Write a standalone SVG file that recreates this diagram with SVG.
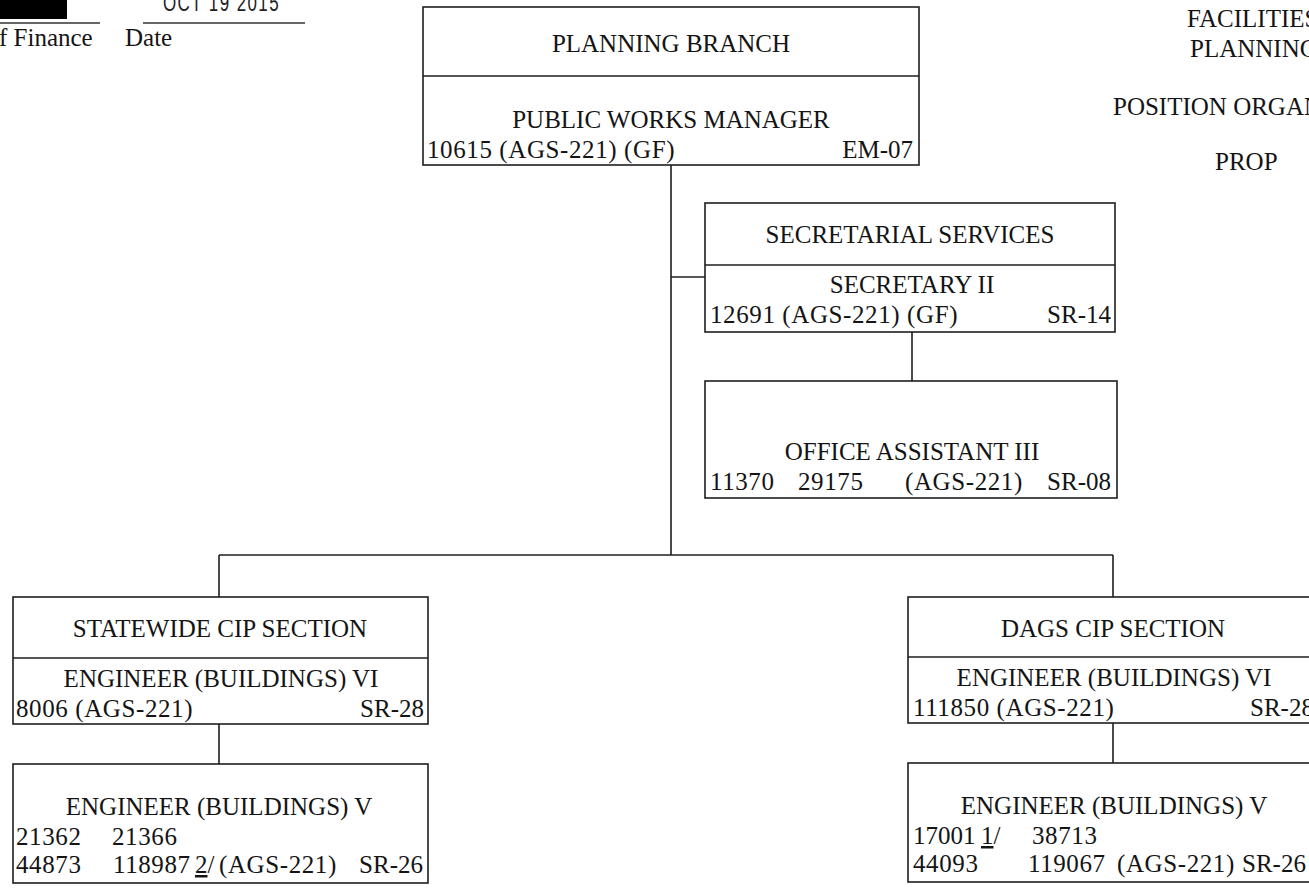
<svg xmlns="http://www.w3.org/2000/svg" width="1309" height="888" viewBox="0 0 1309 888" font-family="'Liberation Serif', 'DejaVu Serif', serif">
<style>
  text { font-family: 'Liberation Serif', 'DejaVu Serif', serif; font-size: 25px; fill: #141414; }
  .c { text-anchor: middle; }
  .r { text-anchor: end; }
  .n { letter-spacing: 0.6px; }
  .box { fill: #ffffff; stroke: #1e1e1e; stroke-width: 1.6; }
  .div { stroke: #1e1e1e; stroke-width: 1.6; }
  .conn line { stroke: #1e1e1e; stroke-width: 1.6; }
  text.stamp { font-family: 'Liberation Sans', 'DejaVu Sans', sans-serif; font-size: 24px; fill: #222; letter-spacing: 2px; }
</style>
<rect width="1309" height="888" fill="#ffffff"/>

<g id="header-left">
  <rect x="0" y="0" width="67" height="19" fill="#000000"/>
  <line x1="0" y1="23" x2="100" y2="23" stroke="#333" stroke-width="1.4"/>
  <line x1="143" y1="23" x2="305" y2="23" stroke="#333" stroke-width="1.4"/>
  <text class="stamp" x="163" y="11" textLength="117" lengthAdjust="spacingAndGlyphs">OCT 19 2015</text>
  <text x="-1" y="46">f Finance</text>
  <text x="125" y="46">Date</text>
</g>

<g id="header-right">
  <text x="1187" y="27">FACILITIES</text>
  <text x="1190" y="57">PLANNING</text>
  <text x="1113" y="115">POSITION ORGAN</text>
  <text x="1215" y="170">PROP</text>
</g>

<g class="conn" id="connectors">
  <line x1="671" y1="165" x2="671" y2="555"/>
  <line x1="671" y1="277" x2="705" y2="277"/>
  <line x1="912" y1="332" x2="912" y2="381"/>
  <line x1="219" y1="555" x2="1113" y2="555"/>
  <line x1="219" y1="555" x2="219" y2="597"/>
  <line x1="1113" y1="555" x2="1113" y2="597"/>
  <line x1="219" y1="724" x2="219" y2="764"/>
  <line x1="1113" y1="723" x2="1113" y2="763"/>
</g>

<g id="planning-branch">
  <rect class="box" x="423" y="7" width="496" height="158"/>
  <line class="div" x1="423" y1="76" x2="919" y2="76"/>
  <text class="c" x="671" y="52">PLANNING BRANCH</text>
  <text class="c" x="671" y="128">PUBLIC WORKS MANAGER</text>
  <text class="n" x="427" y="158">10615 (AGS-221) (GF)</text>
  <text class="r" x="913" y="158">EM-07</text>
</g>

<g id="secretarial-services">
  <rect class="box" x="705" y="203" width="410" height="129"/>
  <line class="div" x1="705" y1="265" x2="1115" y2="265"/>
  <text class="c" x="910" y="243">SECRETARIAL SERVICES</text>
  <text class="c" x="912" y="293">SECRETARY II</text>
  <text class="n" x="710" y="323">12691 (AGS-221) (GF)</text>
  <text class="r" x="1111" y="323">SR-14</text>
</g>

<g id="office-assistant">
  <rect class="box" x="705" y="381" width="412" height="117"/>
  <text class="c" x="912" y="460">OFFICE ASSISTANT III</text>
  <text class="n" x="710" y="490">11370</text>
  <text class="n" x="798" y="490">29175</text>
  <text class="n" x="905" y="490">(AGS-221)</text>
  <text class="r" x="1111" y="490">SR-08</text>
</g>

<g id="statewide-cip">
  <rect class="box" x="13" y="597" width="415" height="127"/>
  <line class="div" x1="13" y1="658" x2="428" y2="658"/>
  <text class="c" x="220" y="637">STATEWIDE CIP SECTION</text>
  <text class="c" x="221" y="687">ENGINEER (BUILDINGS) VI</text>
  <text class="n" x="16" y="717">8006 (AGS-221)</text>
  <text class="r" x="424" y="717">SR-28</text>
</g>

<g id="statewide-engineer-v">
  <rect class="box" x="13" y="764" width="415" height="119"/>
  <text class="c" x="219" y="815">ENGINEER (BUILDINGS) V</text>
  <text class="n" x="16" y="845">21362</text>
  <text class="n" x="112" y="845">21366</text>
  <text class="n" x="16" y="873">44873</text>
  <text class="n" x="113" y="873">118987</text>
  <text x="195" y="873"><tspan text-decoration="underline">2</tspan>/</text>
  <text class="n" x="219" y="873">(AGS-221)</text>
  <text class="r" x="423" y="873">SR-26</text>
</g>

<g id="dags-cip">
  <rect class="box" x="908" y="597" width="410" height="126"/>
  <line class="div" x1="908" y1="657" x2="1318" y2="657"/>
  <text class="c" x="1113" y="637">DAGS CIP SECTION</text>
  <text class="c" x="1114" y="686">ENGINEER (BUILDINGS) VI</text>
  <text class="n" x="913" y="716">111850 (AGS-221)</text>
  <text x="1250" y="716">SR-28</text>
</g>

<g id="dags-engineer-v">
  <rect class="box" x="908" y="763" width="410" height="119"/>
  <text class="c" x="1114" y="814">ENGINEER (BUILDINGS) V</text>
  <text x="913" y="844">17001</text>
  <text x="981" y="844"><tspan text-decoration="underline">1</tspan>/</text>
  <text class="n" x="1032" y="844">38713</text>
  <text class="n" x="913" y="872">44093</text>
  <text class="n" x="1028" y="872">119067</text>
  <text class="n" x="1117" y="872">(AGS-221)</text>
  <text x="1242" y="872">SR-26</text>
</g>
</svg>
